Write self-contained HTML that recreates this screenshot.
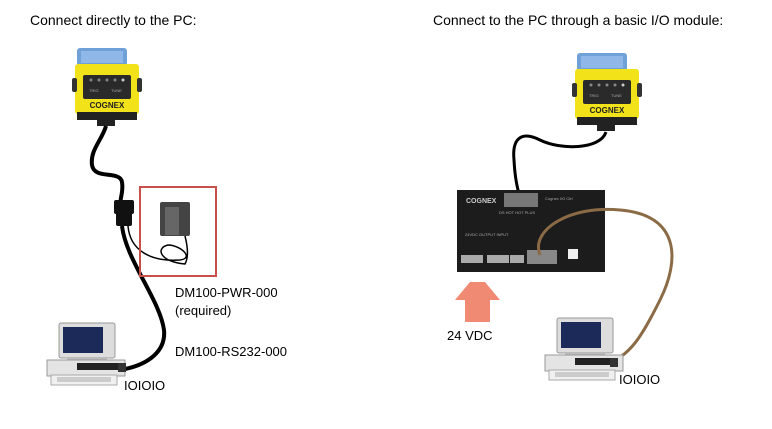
<!DOCTYPE html>
<html><head><meta charset="utf-8"><style>
html,body{margin:0;padding:0;background:#fff;}
body{width:772px;height:429px;overflow:hidden;position:relative;font-family:"Liberation Sans",sans-serif;}
</style></head><body>
<svg width="772" height="429" viewBox="0 0 772 429" xmlns="http://www.w3.org/2000/svg" style="position:absolute;left:0;top:0">
<defs>
<g id="cam">
  <rect x="2" y="0" width="50" height="20" rx="3" fill="#6fa0d8"/>
  <rect x="6" y="3" width="42" height="12" fill="#8fb8e8"/>
  <rect x="0" y="16" width="64" height="50" rx="3" fill="#f2e21a"/>
  <rect x="-3" y="30" width="5" height="14" rx="2" fill="#333"/>
  <rect x="62" y="30" width="5" height="14" rx="2" fill="#333"/>
  <rect x="8" y="27" width="48" height="24" rx="2" fill="#2a2a2a"/>
  <circle cx="16" cy="32" r="1.5" fill="#888"/><circle cx="24" cy="32" r="1.5" fill="#888"/><circle cx="32" cy="32" r="1.5" fill="#888"/><circle cx="40" cy="32" r="1.5" fill="#888"/><circle cx="48" cy="32" r="1.5" fill="#ccc"/>
  <text x="14" y="44" font-size="4" fill="#aaa">TRIG</text><text x="36" y="44" font-size="4" fill="#aaa">TUNE</text>
  <text x="32" y="60" font-size="8" font-weight="bold" fill="#222" text-anchor="middle">COGNEX</text>
  <rect x="2" y="64" width="60" height="8" fill="#222"/>
  <rect x="22" y="72" width="18" height="6" fill="#222"/>
</g>
<g id="pc">
  <rect x="12" y="0" width="56" height="35" rx="2" fill="#ddd" stroke="#999"/>
  <rect x="16" y="4" width="40" height="26" fill="#1c2a5a"/>
  <rect x="20" y="34" width="40" height="4" fill="#bbb"/>
  <rect x="0" y="37" width="78" height="16" fill="#e4e4e4" stroke="#999"/>
  <rect x="30" y="40" width="42" height="7" fill="#222"/>
  <rect x="4" y="52" width="66" height="10" fill="#f0f0f0" stroke="#aaa"/>
  <rect x="10" y="54" width="54" height="5" fill="#ccc"/>
</g>
</defs>
<text x="30" y="25" font-size="14" fill="#000">Connect directly to the PC:</text>
<text x="433" y="25" font-size="14" fill="#000">Connect to the PC through a basic I/O module:</text>

<!-- left -->
<use href="#cam" x="75" y="48"/>
<path d="M106 126 C102 140 90 150 92 165 C94 180 120 170 122 182 C124 195 118 200 122 205" stroke="#000" stroke-width="4" fill="none"/>
<rect x="114" y="200" width="20" height="14" rx="2" fill="#111"/>
<rect x="116" y="212" width="16" height="14" rx="2" fill="#111"/>
<path d="M122 226 C126 260 160 300 164 330 C166 350 150 365 120 370" stroke="#000" stroke-width="4" fill="none"/>
<path d="M128 226 C130 250 150 262 180 260 C195 258 180 245 168 245 C155 248 160 262 185 264 C190 255 186 240 185 236" stroke="#000" stroke-width="1.5" fill="none"/>
<rect x="140" y="187" width="76" height="89" fill="none" stroke="#c9504a" stroke-width="2"/>
<rect x="160" y="202" width="30" height="34" rx="2" fill="#444"/>
<rect x="165" y="207" width="14" height="28" fill="#666"/>
<text x="175" y="297" font-size="13">DM100-PWR-000</text>
<text x="175" y="315" font-size="13">(required)</text>
<text x="175" y="356" font-size="13">DM100-RS232-000</text>
<use href="#pc" x="47" y="323"/>
<rect x="118" y="363" width="8" height="9" fill="#333"/>
<text x="124" y="390" font-size="13">IOIOIO</text>

<!-- right -->
<use href="#cam" x="575" y="53"/>
<path d="M606 132 C600 150 560 150 540 140 C520 130 512 140 514 160 C515 180 518 190 520 198" stroke="#000" stroke-width="3" fill="none"/>
<rect x="457" y="190" width="148" height="82" fill="#1c1c1c"/>
<text x="466" y="203" font-size="7" font-weight="bold" fill="#ccc">COGNEX</text>
<rect x="504" y="193" width="34" height="14" fill="#777"/>
<text x="499" y="214" font-size="4" fill="#aaa">DS HOT HOT PLUS</text>
<text x="545" y="200" font-size="4" fill="#aaa">Cognex I/O Ctrl</text>
<text x="465" y="236" font-size="4" fill="#aaa">24VDC   OUTPUT   INPUT</text>
<rect x="461" y="255" width="22" height="8" fill="#aaa"/>
<rect x="487" y="255" width="22" height="8" fill="#aaa"/>
<rect x="510" y="255" width="14" height="8" fill="#aaa"/>
<rect x="527" y="250" width="30" height="14" fill="#888"/>
<rect x="568" y="249" width="10" height="10" fill="#eee"/>
<path d="M540 255 C530 230 570 205 620 210 C680 215 680 260 660 300 C640 340 630 355 605 365" stroke="#8b6b45" stroke-width="3" fill="none"/>
<polygon points="455,300 470,282 485,282 500,300 490,300 490,322 465,322 465,300" fill="#f08a72"/>
<text x="447" y="340" font-size="13">24 VDC</text>
<use href="#pc" x="545" y="318"/>
<rect x="610" y="358" width="8" height="9" fill="#333"/>
<text x="619" y="384" font-size="13">IOIOIO</text>
</svg>
</body></html>
